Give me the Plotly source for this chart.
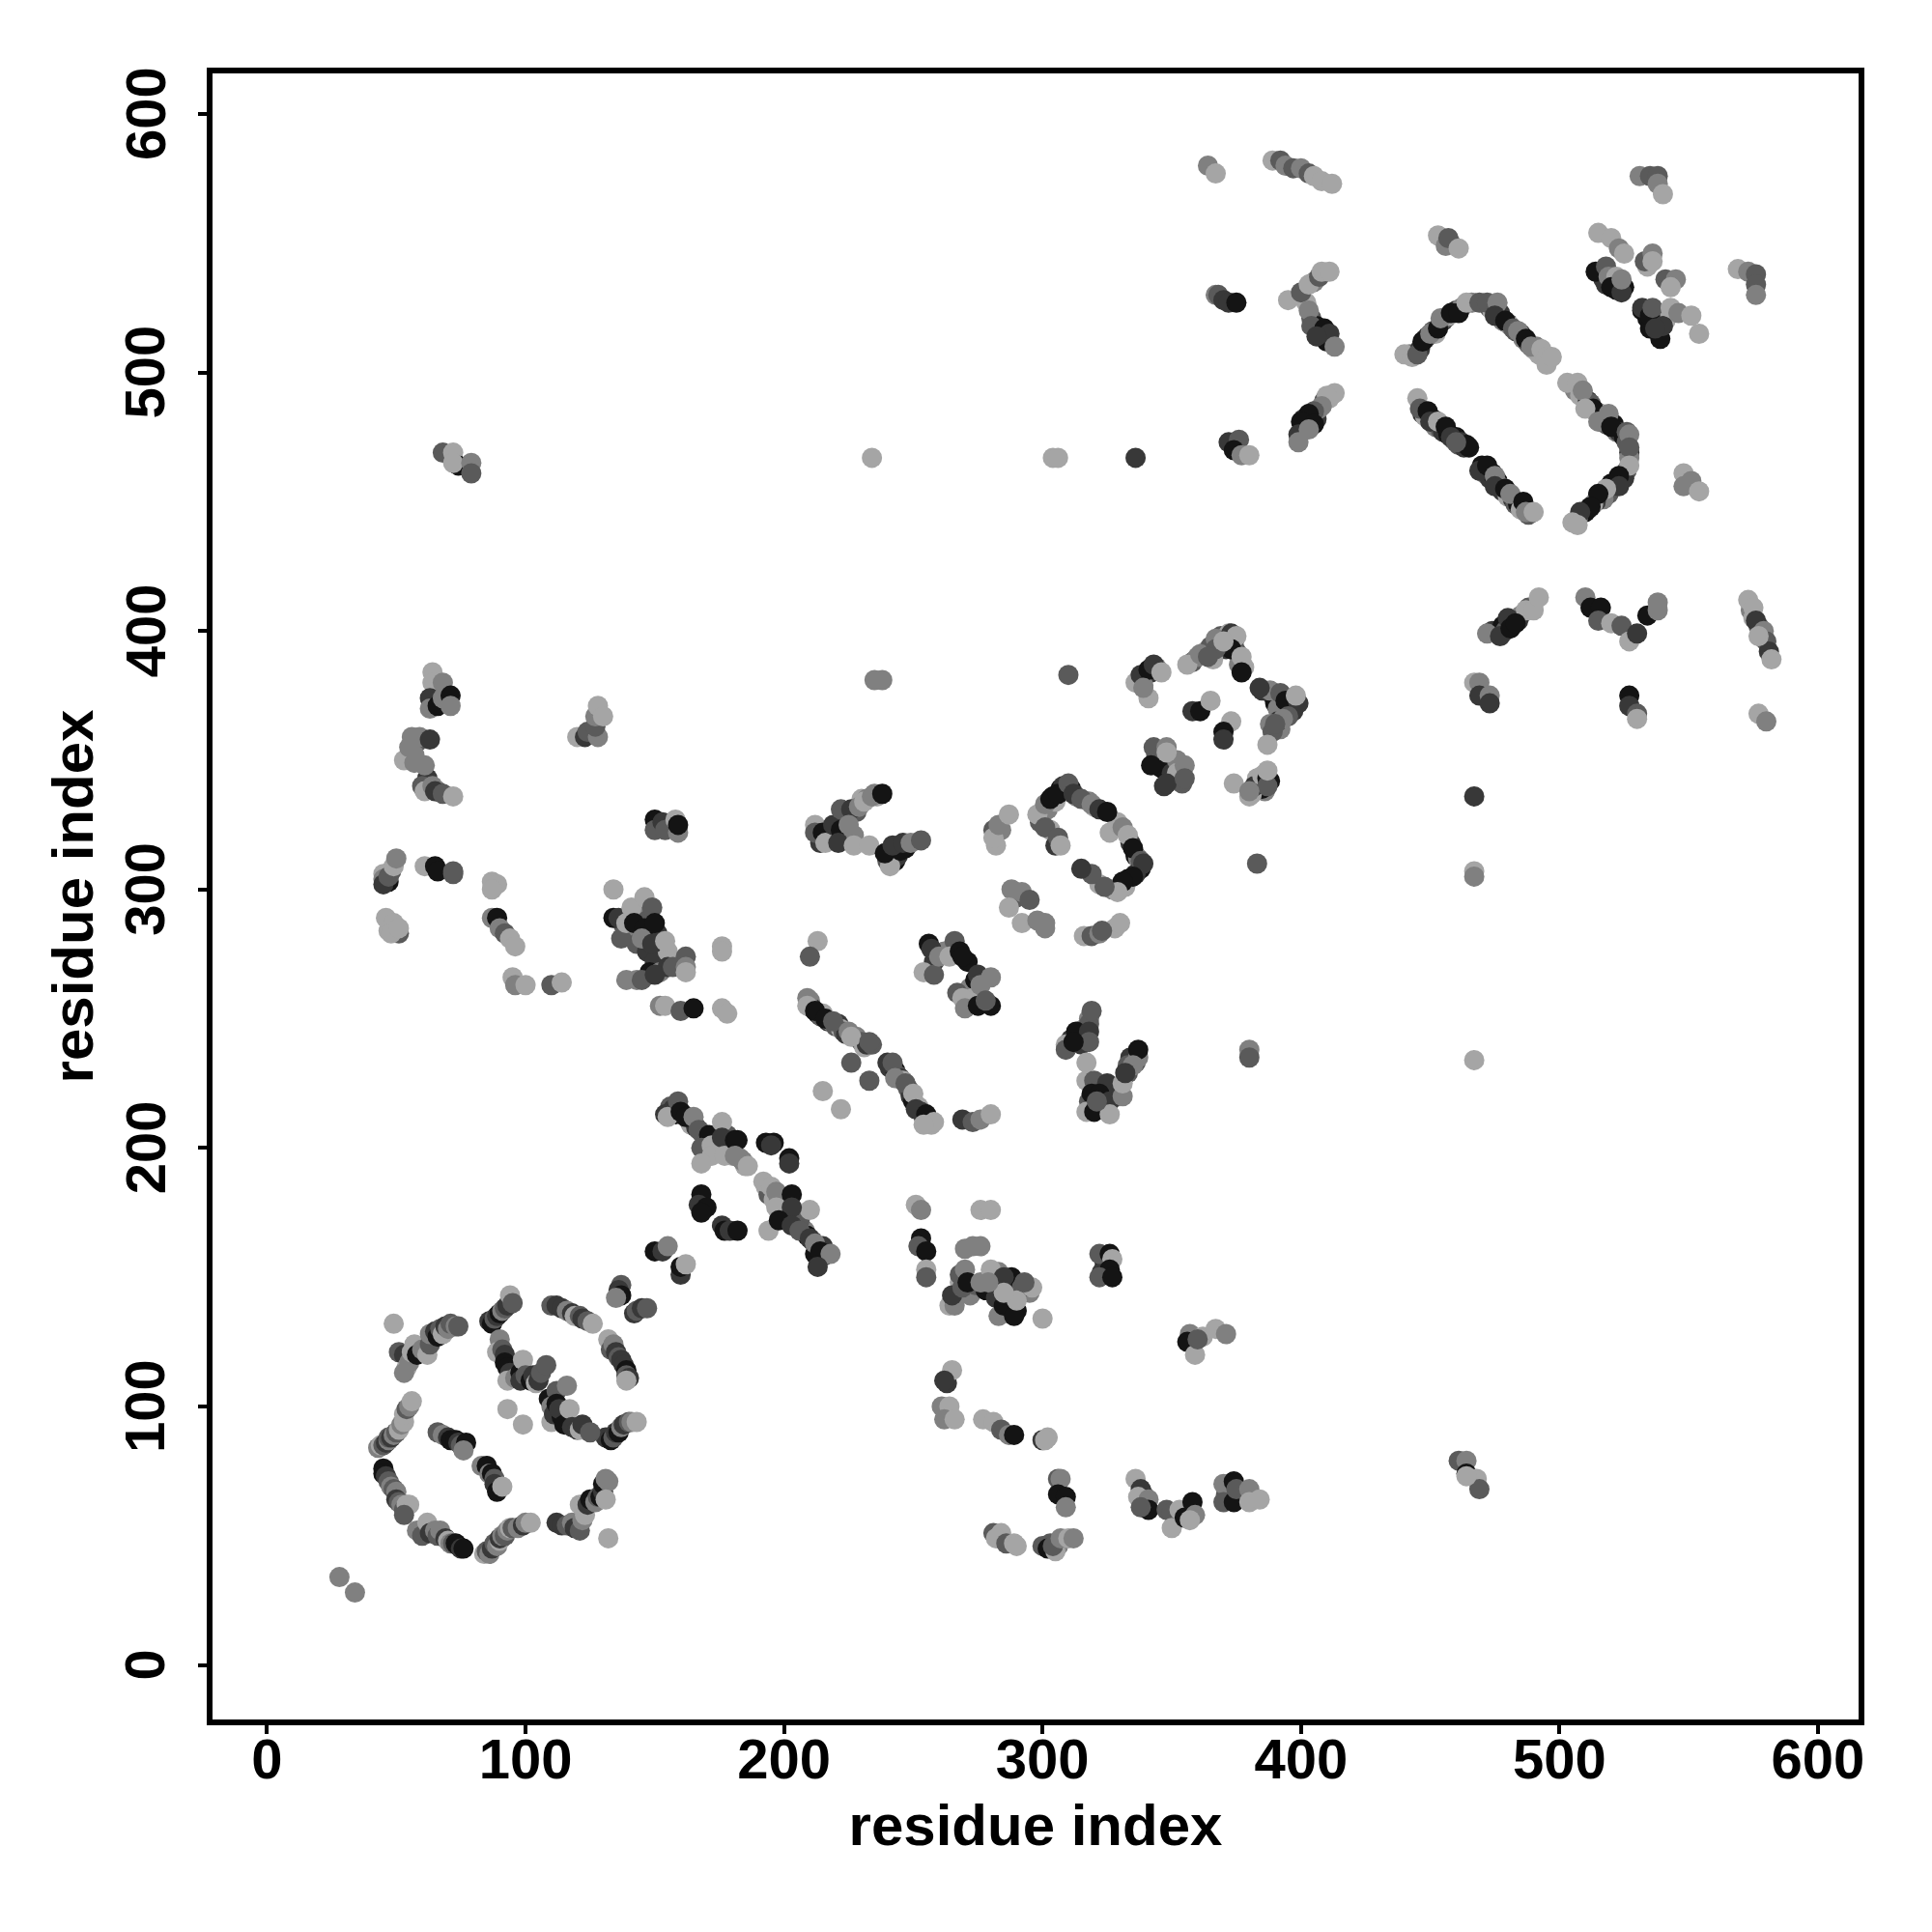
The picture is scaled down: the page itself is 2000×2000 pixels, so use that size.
import plotly.graph_objects as go

tick_values = [0, 100, 200, 300, 400, 500, 600]
axis_label = "residue index"
shades = ["#141414", "#383838", "#5a5a5a", "#808080", "#a5a5a5"]

c01_i = [28, 34]
c01_j = [34, 28]
c01_v = [3, 3]
c02_i = [43, 44, 45, 46, 47, 47, 48, 49, 50, 51, 52, 53, 53, 54, 55, 56]
c02_j = [84, 85, 85, 86, 87, 88, 88, 89, 90, 91, 93, 94, 97, 99, 100, 102]
c02_v = [3, 4, 2, 1, 3, 2, 1, 3, 2, 4, 3, 4, 4, 2, 3, 4]
c03_i = [45, 45, 46, 47, 48, 49, 50, 50, 51, 52, 53, 54, 55, 53]
c03_j = [76, 74, 73, 71, 69, 68, 67, 64, 63, 62, 60, 62, 62, 58]
c03_v = [0, 0, 1, 2, 3, 2, 3, 1, 2, 3, 2, 4, 4, 2]
c04_i = [58, 60, 62, 63, 65, 66, 67, 69, 70, 71, 72, 73, 74, 75, 76]
c04_j = [52, 50, 55, 51, 52, 50, 52, 49, 48, 47, 47, 47, 46, 45, 45]
c04_v = [3, 2, 4, 1, 3, 2, 3, 1, 4, 3, 2, 0, 0, 1, 0]
c05_i = [84, 85, 86, 87, 88, 89, 90, 90, 91, 92, 93, 94, 95, 97, 99, 100, 102]
c05_j = [43, 44, 43, 45, 47, 46, 48, 49, 50, 50, 52, 53, 53, 53, 54, 55, 55]
c05_v = [4, 2, 3, 1, 2, 3, 4, 1, 3, 2, 3, 4, 2, 3, 1, 3, 4]
c06_i = [112, 114, 116, 118, 119, 121, 122, 123, 121, 124, 125, 127, 128, 129, 130, 130, 131, 132, 131, 132]
c06_j = [55, 54, 54, 55, 53, 52, 56, 58, 62, 62, 64, 63, 65, 65, 67, 70, 72, 71, 64, 49]
c06_v = [1, 1, 2, 3, 1, 2, 3, 4, 4, 1, 0, 3, 2, 0, 1, 0, 3, 3, 4, 4]
c07_i = [131, 133, 134, 135, 136, 137, 138, 140, 141, 143]
c07_j = [88, 87, 88, 90, 90, 92, 93, 94, 94, 94]
c07_v = [1, 0, 2, 1, 0, 3, 1, 2, 3, 4]
c08_i = [132, 133, 134, 135, 136, 137, 138, 139, 139, 140, 139]
c08_j = [126, 122, 124, 121, 119, 118, 116, 114, 112, 111, 110]
c08_v = [4, 2, 3, 1, 2, 1, 1, 0, 2, 1, 4]
c09_i = [110, 112, 114, 116, 118, 119, 121, 122, 124, 126]
c09_j = [139, 139, 138, 137, 136, 135, 135, 134, 133, 132]
c09_v = [2, 1, 1, 3, 1, 4, 2, 1, 2, 4]
c10_i = [137, 136, 137, 135, 142, 143, 145, 147]
c10_j = [147, 145, 143, 142, 136, 137, 138, 138]
c10_v = [2, 1, 0, 3, 1, 2, 1, 2]
c11_i = [150, 153, 155, 160, 160, 162]
c11_j = [160, 160, 162, 151, 154, 155]
c11_v = [0, 1, 3, 1, 0, 4]
c12_i = [49, 51, 53, 54, 53, 55, 56, 57, 58, 60, 62, 63, 63, 65, 66, 67, 68, 69, 70, 71, 73, 74]
c12_j = [132, 121, 120, 115, 113, 117, 121, 124, 120, 122, 120, 124, 128, 129, 127, 130, 128, 131, 130, 132, 131, 131]
c12_v = [4, 2, 1, 4, 3, 3, 4, 4, 0, 3, 4, 2, 3, 1, 0, 2, 4, 1, 3, 2, 3, 2]
c13_i = [66, 68, 70, 71, 73, 74, 75, 77, 76]
c13_j = [90, 89, 88, 87, 87, 86, 85, 86, 83]
c13_v = [2, 3, 1, 0, 0, 1, 2, 0, 3]
c14_i = [83, 85, 86, 87, 88, 88, 89, 91]
c14_j = [77, 77, 74, 74, 72, 70, 67, 69]
c14_v = [3, 0, 3, 0, 2, 1, 0, 4]
c15_i = [86, 87, 88, 89, 90, 91, 92, 93, 94, 95]
c15_j = [133, 132, 134, 135, 136, 137, 138, 139, 143, 140]
c15_v = [1, 0, 2, 1, 0, 3, 2, 1, 4, 2]
c16_i = [90, 89, 91, 92, 92, 93, 94, 93, 96, 98, 98, 99, 100, 102, 103, 104, 105, 106, 108]
c16_j = [126, 121, 122, 120, 117, 115, 113, 110, 111, 113, 110, 118, 112, 110, 112, 109, 110, 113, 116]
c16_v = [3, 4, 2, 1, 0, 0, 1, 4, 3, 0, 1, 4, 2, 0, 1, 4, 1, 2, 2]
c17_i = [109, 110, 110, 111, 112, 112, 114, 113, 115, 116, 117, 118, 120, 121, 122, 125]
c17_j = [103, 100, 94, 97, 106, 101, 96, 99, 93, 108, 99, 92, 91, 91, 93, 90]
c17_v = [0, 3, 4, 1, 2, 0, 0, 1, 0, 3, 4, 1, 1, 4, 1, 2]
c18_i = [93, 99]
c18_j = [99, 93]
c18_v = [4, 4]
c19_i = [154, 155, 159, 160, 162, 165, 167, 171, 168, 172, 176, 172, 168, 176, 177, 181, 182, 181, 184, 186]
c19_j = [213, 212, 218, 214, 212, 212, 207, 205, 200, 201, 210, 197, 194, 204, 197, 203, 203, 197, 195, 193]
c19_v = [1, 4, 2, 0, 0, 3, 2, 0, 2, 4, 4, 4, 4, 1, 4, 0, 0, 3, 3, 4]
c20_i = [193, 196, 195, 202, 202]
c20_j = [202, 202, 201, 196, 194]
c20_v = [0, 0, 1, 0, 1]
c21_i = [192, 195, 197, 203, 197, 194, 210, 203, 198, 203, 206, 210, 212, 214, 218, 213]
c21_j = [187, 185, 183, 182, 177, 168, 176, 177, 172, 170, 168, 165, 163, 160, 159, 154]
c21_v = [4, 4, 3, 0, 4, 4, 4, 1, 0, 1, 2, 1, 3, 0, 3, 1]
c22_i = [168, 167, 170, 168, 176, 177, 179, 182]
c22_j = [182, 178, 177, 175, 170, 168, 168, 168]
c22_v = [0, 1, 0, 0, 1, 0, 1, 0]
c23_i = [209, 209, 212, 216, 219, 225, 226, 233, 226, 233, 240, 242, 243, 247, 250, 251, 255, 258, 254]
c23_j = [258, 255, 253, 250, 249, 245, 243, 241, 233, 226, 233, 233, 227, 225, 221, 215, 213, 210, 209]
c23_v = [3, 4, 0, 0, 2, 3, 4, 2, 2, 2, 1, 2, 3, 2, 4, 1, 0, 4, 4]
c24_i = [215, 222]
c24_j = [222, 215]
c24_v = [4, 4]
c25_i = [68, 72, 74, 72, 79, 79]
c25_j = [469, 469, 464, 465, 465, 461]
c25_v = [2, 4, 0, 4, 3, 2]
c26_i = [234, 235, 238, 310, 336, 304, 306]
c26_j = [467, 381, 381, 383, 467, 467, 467]
c26_v = [4, 3, 3, 2, 1, 4, 4]
c27_i = [64, 64, 68, 63, 63, 66, 68, 71, 71]
c27_j = [384, 380, 380, 374, 370, 371, 374, 375, 371]
c27_v = [4, 4, 3, 1, 3, 0, 3, 0, 3]
c28_i = [56, 59, 63, 53, 55, 57, 61, 60, 61, 64, 65, 68, 72]
c28_j = [359, 359, 358, 350, 355, 349, 348, 340, 338, 340, 338, 337, 336]
c28_v = [3, 3, 1, 4, 3, 3, 3, 2, 4, 3, 1, 2, 4]
c29_i = [120, 123, 124, 128, 127, 127, 128, 130]
c29_j = [359, 359, 361, 359, 363, 367, 371, 367]
c29_v = [4, 1, 2, 3, 2, 3, 4, 4]
c30_i = [150, 150, 153, 154, 159, 158, 159]
c30_j = [327, 323, 326, 323, 322, 327, 325]
c30_v = [0, 2, 1, 2, 3, 4, 0]
c31_i = [212, 212, 215, 216, 219, 222, 222, 226, 225, 227, 221, 227, 229, 231, 234, 235, 238]
c31_j = [325, 322, 322, 318, 325, 323, 331, 331, 325, 321, 318, 317, 332, 334, 336, 337, 337]
c31_v = [4, 2, 0, 4, 1, 0, 2, 1, 3, 3, 1, 4, 3, 4, 3, 3, 0]
c32_i = [233, 240, 241, 239, 245, 242, 246, 249, 253]
c32_j = [317, 311, 309, 314, 315, 317, 318, 318, 319]
c32_v = [4, 2, 4, 0, 0, 1, 1, 3, 2]
c33_i = [45, 45, 47, 49, 50, 61, 65, 66, 72, 72]
c33_j = [304, 302, 305, 309, 312, 309, 309, 307, 306, 307]
c33_v = [3, 1, 2, 4, 3, 4, 0, 0, 2, 2]
c34_i = [87, 89, 87, 46, 49, 51, 48, 51]
c34_j = [303, 302, 300, 289, 287, 283, 283, 285]
c34_v = [4, 4, 4, 4, 4, 2, 4, 4]
c35_i = [87, 89, 90, 92, 94, 96]
c35_j = [289, 289, 285, 283, 281, 278]
c35_v = [3, 0, 3, 2, 4, 4]
c36_i = [134, 134, 136, 137, 139, 141, 146, 149, 142, 146, 150, 145, 149, 154, 162, 176, 176, 213, 210]
c36_j = [300, 289, 289, 281, 287, 293, 297, 293, 287, 285, 287, 281, 279, 280, 274, 278, 276, 280, 274]
c36_v = [4, 0, 1, 2, 4, 4, 4, 2, 0, 0, 0, 3, 1, 4, 2, 4, 4, 4, 2]
c37_i = [139, 145, 150, 157, 162, 162, 152, 154, 160, 165, 176, 178]
c37_j = [265, 265, 267, 270, 270, 268, 255, 255, 253, 254, 254, 252]
c37_v = [3, 2, 1, 2, 3, 4, 3, 4, 2, 0, 4, 4]
c38_i = [95, 96, 100, 110, 114]
c38_j = [266, 263, 263, 263, 264]
c38_v = [4, 3, 4, 2, 4]
c39_i = [256, 254, 258, 257, 260, 266, 264, 268, 269, 267, 269, 270, 275, 276, 275, 280, 280, 278]
c39_j = [279, 268, 267, 277, 274, 280, 274, 276, 274, 260, 258, 254, 267, 263, 255, 266, 255, 257]
c39_v = [0, 4, 2, 1, 3, 2, 4, 0, 0, 2, 4, 3, 1, 3, 0, 3, 0, 2]
c40_i = [269, 273, 276, 280]
c40_j = [211, 210, 211, 213]
c40_v = [1, 2, 3, 4]
c41_i = [282, 281, 281, 283, 287, 288, 292, 287, 292, 298, 301, 301, 295]
c41_j = [317, 323, 320, 325, 329, 300, 299, 293, 287, 288, 287, 285, 296]
c41_v = [4, 2, 4, 3, 4, 3, 3, 4, 4, 3, 3, 3, 2]
c42_i = [316, 319, 322, 328, 330, 323]
c42_j = [282, 282, 283, 285, 287, 284]
c42_v = [4, 2, 3, 4, 4, 2]
c43_i = [298, 301, 301, 303, 306, 310, 312, 315, 319, 322, 325, 306, 307]
c43_j = [329, 324, 333, 335, 337, 341, 337, 335, 333, 331, 330, 320, 317]
c43_v = [4, 2, 3, 0, 0, 2, 1, 2, 3, 1, 0, 2, 4]
c44_i = [331, 333, 335, 338, 339, 335, 331, 329, 324, 319, 315]
c44_j = [324, 321, 316, 311, 310, 305, 303, 299, 301, 306, 308]
c44_v = [3, 4, 0, 2, 1, 0, 0, 4, 2, 2, 1]
c45_i = [383, 467, 467, 467]
c45_j = [310, 336, 307, 305]
c45_v = [2, 1, 4, 3]
c46_i = [336, 338, 341, 343, 346, 341, 339]
c46_j = [380, 383, 385, 387, 384, 374, 378]
c46_v = [4, 1, 0, 1, 4, 4, 3]
c47_i = [356, 361, 366, 367, 373, 375, 373, 367, 377, 377, 370, 364]
c47_j = [387, 391, 389, 397, 399, 398, 393, 393, 390, 384, 396, 390]
c47_v = [4, 3, 4, 3, 1, 4, 0, 2, 4, 0, 4, 2]
c48_i = [385, 388, 392, 394, 399, 398, 395, 393, 389, 387, 390, 384]
c48_j = [377, 377, 376, 373, 372, 375, 367, 366, 361, 356, 364, 378]
c48_v = [1, 3, 2, 0, 1, 4, 2, 3, 2, 4, 2, 1]
c49_i = [358, 361, 365, 373, 370, 370]
c49_j = [369, 369, 373, 365, 361, 358]
c49_v = [1, 0, 4, 4, 0, 1]
c50_i = [343, 348, 342, 348, 355, 355, 348]
c50_j = [355, 355, 348, 341, 348, 343, 353]
c50_v = [2, 3, 0, 1, 3, 2, 4]
c51_i = [374, 380, 382, 385, 387, 387, 380, 387]
c51_j = [341, 336, 340, 344, 343, 340, 338, 346]
c51_v = [4, 4, 1, 4, 0, 2, 3, 4]
c52_i = [364, 367, 389, 392, 394, 397, 400, 403, 405, 408, 412]
c52_j = [580, 577, 582, 582, 580, 579, 579, 577, 576, 574, 573]
c52_v = [3, 4, 4, 2, 3, 2, 3, 2, 4, 4, 4]
c53_i = [367, 368, 370, 372, 375]
c53_j = [530, 530, 528, 527, 527]
c53_v = [3, 2, 1, 1, 0]
c54_i = [395, 400, 403, 407, 408, 411, 403, 404, 409, 411, 413, 406]
c54_j = [528, 531, 534, 537, 539, 539, 524, 518, 517, 515, 510, 514]
c54_v = [4, 2, 4, 2, 4, 4, 3, 2, 0, 1, 3, 1]
c55_i = [413, 410, 408, 405, 403, 400, 405, 399, 399, 403]
c55_j = [492, 491, 487, 485, 484, 481, 480, 476, 473, 478]
c55_v = [4, 4, 3, 2, 0, 0, 0, 1, 3, 3]
c56_i = [372, 376, 374, 377, 380]
c56_j = [473, 474, 470, 468, 468]
c56_v = [1, 2, 0, 3, 4]
c57_i = [440, 443, 445, 447, 450, 453, 454, 458, 461, 464, 469, 472, 476, 475, 479, 482, 484, 487, 489, 493, 495, 495, 497]
c57_j = [507, 506, 507, 512, 515, 517, 521, 523, 523, 527, 527, 527, 527, 522, 520, 517, 516, 513, 510, 509, 506, 503, 506]
c57_v = [4, 4, 2, 0, 3, 0, 3, 0, 0, 4, 2, 2, 3, 1, 0, 2, 3, 0, 3, 4, 4, 4, 4]
c58_i = [503, 507, 509, 513, 510, 519, 515, 520, 526, 527, 527, 527, 523, 523, 518, 515, 512, 508, 505, 507]
c58_j = [496, 496, 493, 486, 486, 484, 481, 479, 477, 476, 471, 464, 460, 456, 455, 453, 448, 446, 442, 441]
c58_v = [4, 4, 3, 0, 4, 3, 3, 0, 2, 3, 2, 4, 0, 1, 4, 0, 0, 1, 4, 4]
c59_i = [445, 446, 449, 450, 453, 456, 458, 462, 464, 460, 469, 472, 475, 475, 479, 481, 486, 487, 490]
c59_j = [490, 486, 485, 481, 481, 479, 475, 473, 472, 473, 462, 464, 460, 456, 455, 453, 450, 446, 446]
c59_v = [4, 2, 0, 1, 4, 0, 1, 1, 0, 2, 1, 0, 3, 1, 0, 3, 0, 3, 4]
c60_i = [548, 548, 551, 554]
c60_j = [461, 456, 458, 454]
c60_v = [4, 3, 3, 4]
c61_i = [472, 477, 480, 481, 484, 487, 490, 492, 483]
c61_j = [399, 398, 405, 401, 404, 408, 408, 413, 403]
c61_v = [3, 1, 1, 0, 1, 4, 4, 4, 0]
c62_i = [510, 512, 516, 515, 520, 524, 527, 530, 534, 538, 538]
c62_j = [413, 409, 409, 404, 403, 402, 396, 399, 406, 411, 408]
c62_v = [3, 0, 0, 2, 4, 2, 4, 1, 0, 3, 3]
c63_i = [573, 575, 576, 579, 580, 581, 582, 577]
c63_j = [412, 409, 404, 400, 396, 392, 389, 398]
c63_v = [4, 4, 1, 3, 2, 1, 4, 4]
c64_i = [467, 469, 469, 473, 473, 527, 527, 530, 530, 577, 580]
c64_j = [380, 380, 375, 375, 372, 375, 371, 368, 366, 368, 365]
c64_v = [4, 3, 1, 3, 1, 0, 1, 2, 4, 4, 3]
c65_i = [531, 535, 538, 538, 540, 453, 456, 457, 461]
c65_j = [576, 576, 576, 573, 569, 553, 549, 552, 548]
c65_v = [3, 2, 2, 3, 4, 4, 3, 2, 4]
c66_i = [515, 520, 523, 525, 514, 518, 519, 522, 520, 524, 524, 533, 536, 536, 541, 545, 543]
c66_j = [554, 552, 548, 546, 539, 541, 537, 537, 533, 531, 536, 543, 546, 543, 536, 536, 533]
c66_v = [4, 4, 3, 4, 0, 2, 3, 4, 0, 1, 3, 2, 3, 4, 2, 3, 4]
c67_i = [532, 535, 536, 539, 540, 537, 543, 546, 551, 554]
c67_j = [525, 522, 525, 513, 518, 517, 525, 523, 522, 515]
c67_v = [1, 0, 2, 0, 1, 1, 4, 3, 4, 4]
c68_i = [569, 573, 576, 576, 576]
c68_j = [540, 539, 538, 534, 530]
c68_v = [4, 3, 2, 2, 3]
c69_i = [251, 253, 253, 252, 255, 255, 255]
c69_j = [178, 176, 165, 162, 160, 153, 150]
c69_v = [4, 3, 0, 2, 0, 4, 2]
c70_i = [270, 273, 276, 276, 280]
c70_j = [161, 162, 162, 176, 176]
c70_v = [3, 3, 3, 4, 4]
c71_i = [264, 266, 265, 269, 270, 271, 276, 280, 282, 284, 288, 285, 289, 285, 292, 290, 296, 285, 293, 300, 279]
c71_j = [139, 139, 143, 146, 153, 148, 148, 153, 142, 148, 150, 139, 135, 150, 146, 141, 146, 144, 148, 134, 148]
c71_v = [4, 3, 1, 2, 3, 0, 3, 4, 1, 0, 0, 0, 0, 1, 2, 4, 4, 4, 2, 4, 3]
c72_i = [322, 326, 327, 326, 322, 327]
c72_j = [159, 159, 157, 153, 150, 150]
c72_v = [2, 0, 4, 0, 2, 0]
c73_i = [357, 356, 359, 362, 367, 371, 360]
c73_j = [128, 125, 120, 127, 130, 128, 126]
c73_v = [3, 0, 4, 4, 4, 3, 2]
c74_i = [263, 265, 262, 261, 264, 262, 266]
c74_j = [109, 114, 110, 100, 100, 95, 95]
c74_v = [1, 4, 1, 3, 4, 3, 4]
c75_i = [277, 281, 284, 287, 289, 300, 302, 301]
c75_j = [95, 94, 91, 89, 89, 87, 88, 87]
c75_v = [4, 4, 2, 3, 0, 1, 4, 4]
c76_i = [306, 307, 306, 309, 309]
c76_j = [72, 72, 66, 65, 61]
c76_v = [2, 3, 0, 0, 3]
c77_i = [281, 284, 282, 286, 289, 290]
c77_j = [51, 51, 49, 47, 47, 46]
c77_v = [2, 4, 4, 2, 4, 4]
c78_i = [300, 302, 305, 304, 307, 310, 312]
c78_j = [46, 45, 44, 46, 49, 49, 49]
c78_v = [2, 0, 4, 2, 3, 4, 3]
c79_i = [336, 338, 337, 341, 341, 338]
c79_j = [72, 68, 65, 64, 60, 61]
c79_v = [4, 1, 4, 3, 0, 2]
c80_i = [348, 350, 350, 353, 355, 358, 359, 357]
c80_j = [60, 59, 53, 60, 57, 63, 58, 56]
c80_v = [2, 2, 4, 4, 0, 0, 3, 4]
c81_i = [370, 370, 374, 374, 375, 380, 380, 384]
c81_j = [70, 63, 71, 63, 68, 68, 63, 64]
c81_v = [3, 2, 0, 0, 2, 3, 4, 4]
c82_i = [461, 464, 464, 468, 469, 464]
c82_j = [79, 79, 74, 72, 68, 73]
c82_v = [2, 3, 0, 4, 2, 4]
c83_i = [380, 380, 467]
c83_j = [238, 235, 234]
c83_v = [3, 2, 4]
c84_i = [319, 313, 318, 318, 309, 309, 312, 317, 317, 320, 325, 319, 322, 326, 317, 320, 326, 321]
c84_j = [253, 245, 245, 241, 240, 238, 241, 233, 226, 226, 225, 221, 221, 218, 214, 214, 213, 218]
c84_v = [2, 0, 1, 2, 4, 2, 0, 4, 4, 2, 1, 0, 0, 1, 4, 0, 4, 2]
c85_i = [331, 331, 333, 337, 337, 335, 332]
c85_j = [220, 225, 232, 235, 238, 232, 229]
c85_v = [3, 4, 2, 3, 0, 3, 1]

# further marks read from the dense stretches; these sit beneath the ones above
d01_i = [442, 446, 448, 449, 451, 452, 455, 456, 457, 460, 462, 466]
d01_j = [507, 509, 513, 514, 516, 515, 520, 521, 522, 524, 525, 527]
d01_v = [3, 1, 2, 1, 2, 4, 1, 2, 4, 1, 3, 3]
d02_i = [473, 474, 477, 478, 480, 481, 483, 485, 486, 488, 490, 491, 492, 494]
d02_j = [525, 524, 523, 520, 519, 518, 516, 515, 513, 511, 509, 510, 507, 507]
d02_v = [2, 4, 1, 3, 1, 4, 2, 1, 3, 2, 4, 3, 4, 4]
d03_i = [505, 506, 508, 511, 512, 514, 516, 517, 518, 521, 522, 523, 525, 526, 527, 527]
d03_j = [495, 493, 491, 489, 488, 485, 484, 482, 480, 480, 477, 477, 475, 473, 469, 467]
d03_v = [4, 3, 4, 1, 2, 1, 4, 1, 2, 0, 3, 1, 0, 2, 1, 3]
d04_i = [526, 525, 522, 520, 519, 517, 514, 513, 511, 510, 507]
d04_j = [462, 459, 458, 457, 453, 451, 450, 449, 447, 446, 443]
d04_v = [2, 1, 4, 0, 2, 3, 1, 4, 2, 0, 3]
d05_i = [447, 448, 451, 452, 454, 455, 457, 459, 460, 461, 463, 465]
d05_j = [484, 483, 482, 479, 478, 477, 476, 474, 475, 472, 471, 471]
d05_v = [1, 4, 0, 3, 2, 1, 0, 3, 0, 2, 1, 0]
d06_i = [470, 471, 473, 474, 476, 477, 478, 480, 482, 483, 484, 485, 488]
d06_j = [464, 461, 459, 461, 458, 456, 454, 452, 451, 449, 449, 447, 445]
d06_v = [0, 3, 1, 0, 0, 3, 1, 4, 1, 2, 0, 4, 2]
d07_i = [210, 211, 213, 214, 215, 217, 218, 220, 221, 222, 223, 224, 228, 230, 231, 232, 234]
d07_j = [257, 254, 252, 251, 252, 249, 249, 247, 248, 246, 245, 244, 243, 241, 239, 240, 240]
d07_v = [3, 1, 0, 2, 4, 1, 3, 2, 1, 4, 2, 1, 3, 2, 4, 1, 2]
d08_i = [241, 243, 244, 245, 246, 248, 249, 250, 252, 253, 254, 256, 257]
d08_j = [231, 230, 228, 227, 226, 223, 220, 218, 216, 214, 212, 210, 209]
d08_v = [1, 0, 2, 1, 4, 2, 1, 0, 4, 1, 2, 0, 4]
d09_i = [156, 157, 158, 161, 163, 164, 166, 168, 169, 170, 173, 174, 175, 178, 179, 180, 183, 185, 178]
d09_j = [216, 215, 213, 213, 211, 209, 208, 206, 205, 203, 203, 200, 198, 202, 199, 197, 196, 193, 205]
d09_v = [2, 1, 0, 2, 0, 4, 1, 3, 2, 0, 1, 4, 3, 3, 4, 4, 3, 4, 2]
d10_i = [193, 194, 196, 198, 199, 200, 201, 204, 205, 207, 208, 209, 211, 213, 212, 215, 215, 199, 206]
d10_j = [185, 182, 180, 180, 178, 175, 173, 173, 171, 169, 168, 166, 164, 162, 159, 162, 158, 174, 172]
d10_v = [4, 2, 4, 3, 4, 1, 3, 1, 0, 2, 3, 0, 1, 2, 0, 1, 2, 4, 2]
d11_i = [267, 268, 268, 272, 274, 278, 283, 286, 287, 288, 290, 287, 291, 295, 283]
d11_j = [143, 148, 151, 143, 147, 145, 152, 146, 143, 139, 137, 136, 147, 144, 135]
d11_v = [3, 4, 2, 3, 2, 0, 3, 0, 1, 0, 0, 1, 0, 3, 3]
d12_i = [138, 140, 142, 143, 145, 147, 148, 151, 147, 152, 154, 150, 155, 148, 152, 155, 143]
d12_j = [286, 283, 281, 279, 290, 288, 283, 283, 276, 276, 274, 272, 276, 268, 268, 270, 265]
d12_v = [2, 0, 3, 2, 3, 2, 0, 1, 1, 2, 3, 1, 4, 0, 3, 1, 3]
d13_i = [299, 300, 302, 304, 305, 307, 308, 309, 311, 313, 318, 320, 303, 305]
d13_j = [326, 330, 331, 336, 334, 339, 340, 338, 339, 336, 334, 332, 323, 317]
d13_v = [2, 0, 3, 0, 4, 0, 1, 4, 0, 3, 3, 4, 4, 1]
d14_i = [326, 329, 334, 336, 337, 338, 336, 333, 332, 327, 322]
d14_j = [322, 326, 318, 313, 312, 308, 306, 304, 301, 300, 302]
d14_v = [4, 4, 1, 0, 3, 0, 1, 0, 4, 3, 4]
d15_i = [340, 342, 344, 337, 339, 358, 360, 363, 365, 369, 370, 371, 372, 374, 375, 376, 378]
d15_j = [383, 384, 386, 381, 379, 388, 390, 392, 394, 398, 395, 393, 399, 396, 392, 387, 386]
d15_v = [0, 1, 3, 4, 3, 2, 3, 4, 2, 2, 0, 1, 4, 0, 2, 3, 4]
d16_i = [389, 390, 391, 393, 395, 396, 397, 392, 391, 388]
d16_j = [375, 372, 370, 375, 372, 370, 369, 362, 365, 364]
d16_v = [1, 0, 3, 4, 2, 0, 1, 3, 1, 3]
d17_i = [345, 344, 346, 350, 352, 352, 347, 354, 386, 388, 385, 383, 381]
d17_j = [351, 352, 347, 345, 350, 345, 340, 341, 338, 342, 339, 343, 337]
d17_v = [1, 2, 0, 1, 3, 4, 1, 2, 3, 0, 0, 4, 4]
d18_i = [314, 315, 316, 311, 318, 318, 321, 323, 324, 321, 318, 328, 329, 334, 336, 333]
d18_j = [243, 240, 246, 242, 250, 248, 222, 223, 217, 216, 218, 223, 220, 235, 233, 229]
d18_v = [0, 1, 3, 1, 3, 2, 1, 0, 1, 1, 2, 3, 1, 1, 2, 2]
d19_i = [516, 517, 518, 521, 522, 523, 525, 534, 532, 534, 537, 538, 535, 541]
d19_j = [538, 536, 534, 535, 532, 534, 533, 541, 524, 521, 520, 516, 517, 520]
d19_v = [0, 1, 1, 2, 0, 3, 0, 4, 0, 0, 3, 1, 0, 4]
d20_i = [404, 406, 408, 410, 402, 405, 401, 402, 404, 406, 407, 409, 411]
d20_j = [521, 518, 515, 512, 527, 535, 482, 480, 483, 482, 486, 489, 490]
d20_v = [2, 0, 1, 0, 4, 3, 1, 0, 0, 1, 3, 2, 4]
d21_i = [474, 478, 479, 482, 485, 488, 574, 575, 577, 578, 579]
d21_j = [400, 402, 400, 403, 406, 409, 408, 405, 402, 399, 397]
d21_v = [1, 0, 2, 0, 3, 2, 3, 4, 2, 1, 4]
d22_i = [258, 262, 271, 272, 274, 277, 273, 271]
d22_j = [272, 276, 272, 262, 265, 257, 258, 255]
d22_v = [1, 3, 0, 3, 0, 0, 4, 1]
d23_i = [214, 218, 220, 223, 224, 228, 230, 232, 236, 243, 244, 247]
d23_j = [318, 321, 320, 327, 329, 330, 335, 335, 336, 311, 313, 316]
d23_v = [1, 0, 2, 2, 0, 2, 4, 3, 4, 0, 1, 0]
d24_i = [284, 290, 46, 48, 45, 47, 47, 58, 57, 62, 66]
d24_j = [323, 297, 305, 307, 306, 303, 284, 357, 352, 343, 338]
d24_v = [3, 2, 3, 2, 4, 0, 4, 2, 3, 1, 2]
d25_i = [339, 340, 303, 306, 371, 372, 376, 458, 324, 325, 323]
d25_j = [66, 62, 47, 46, 66, 69, 65, 550, 156, 155, 152]
d25_v = [2, 1, 2, 3, 2, 0, 1, 3, 0, 1, 1]

contact_i, contact_j, contact_v = [], [], []
names = [f"d{n:02d}" for n in range(1, 26)] + [f"c{n:02d}" for n in range(1, 86)]
for name in names:
    a, b, c = globals()[name + "_i"], globals()[name + "_j"], globals()[name + "_v"]
    assert len(a) == len(b) == len(c), name
    contact_i += a
    contact_j += b
    contact_v += c

fig = go.Figure(
    go.Scatter(
        x=contact_i,
        y=contact_j,
        mode="markers",
        marker=dict(size=21, color=[shades[v] for v in contact_v], line=dict(width=0)),
        hoverinfo="skip",
    )
)

tick_font = dict(family="Liberation Sans", size=58, color="black", weight="bold")
title_font = dict(family="Liberation Sans", size=60, color="black", weight="bold")

axis_common = dict(
    range=[-21.1, 615.7],
    tickmode="array",
    tickvals=tick_values,
    ticktext=[str(t) for t in tick_values],
    ticks="outside",
    ticklen=9,
    tickwidth=3.5,
    tickcolor="black",
    showline=True,
    linewidth=6,
    linecolor="black",
    mirror=True,
    showgrid=False,
    zeroline=False,
    tickfont=tick_font,
)

fig.update_layout(
    width=2000,
    height=2000,
    autosize=False,
    showlegend=False,
    paper_bgcolor="white",
    plot_bgcolor="white",
    margin=dict(l=220, r=76, t=76, b=220),
    font=dict(family="Liberation Sans", color="black"),
    xaxis=dict(
        **axis_common,
        ticklabelstandoff=-24,
        title=dict(text=axis_label, standoff=18, font=title_font),
    ),
    yaxis=dict(
        **axis_common,
        showticklabels=False,
        title=dict(text=axis_label, standoff=91, font=title_font),
    ),
    annotations=[
        dict(
            text=str(t),
            xref="paper",
            yref="y",
            x=0,
            y=t,
            xanchor="center",
            yanchor="middle",
            xshift=-70,
            textangle=-90,
            showarrow=False,
            font=tick_font,
        )
        for t in tick_values
    ],
)

fig.write_html(
    "out.html",
    config={"displayModeBar": False},
    post_script="document.body.style.margin='0';",
)
